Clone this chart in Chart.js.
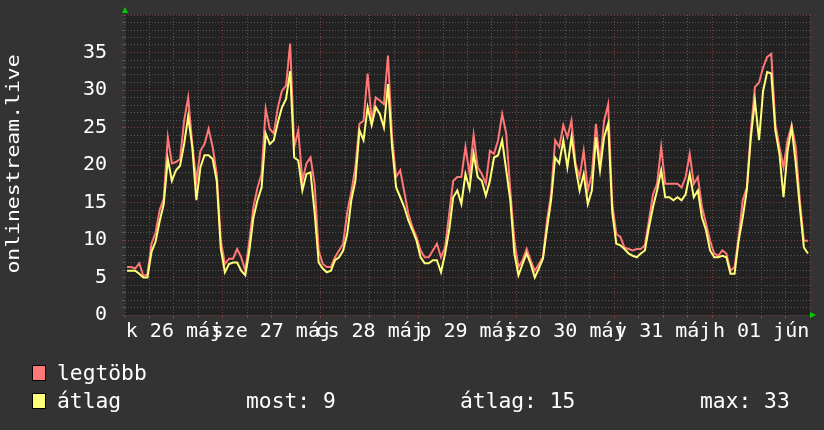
<!DOCTYPE html>
<html>
<head>
<meta charset="utf-8">
<script src="https://cdn.jsdelivr.net/npm/chart.js"></script>
<style>
  html, body { margin: 0; padding: 0; background: #333333; }
  #wrap { width: 824px; height: 430px; }
</style>
</head>
<body>
<div id="wrap"><canvas id="graph" width="824" height="430"></canvas></div>
<script>
// one week, hourly values (May 26 00:00 -> Jun 1 24:00)
const dayLabels = ['k 26 máj', 'sze 27 máj', 'cs 28 máj', 'p 29 máj', 'szo 30 máj', 'v 31 máj', 'h 01 jún'];
const yLabels = [0, 5, 10, 15, 20, 25, 30, 35];

// legtöbb (max)
const maxValues = [
  6.4, 6.4, 6.2, 6.9, 5.2, 5.4, 9.5, 11.0, 14.0, 15.5, 23.7, 20.2,
  20.4, 20.8, 25.9, 29.0, 22.8, 17.9, 21.9, 22.8, 24.8, 22.4, 18.8, 9.9,
  6.8, 7.5, 7.5, 8.8, 7.7, 5.9, 9.9, 14.4, 17.0, 18.8, 27.5, 24.8,
  24.2, 27.7, 29.9, 30.6, 36.2, 22.4, 24.6, 17.9, 20.2, 21.0, 17.5, 8.6,
  6.8, 6.4, 6.4, 7.7, 8.6, 9.5, 13.7, 16.4, 19.7, 25.5, 25.9, 32.2,
  25.9, 29.0, 28.6, 28.1, 34.6, 23.7, 18.4, 19.3, 16.4, 13.5, 11.7, 10.4,
  8.6, 7.7, 7.7, 8.6, 9.5, 7.7, 9.0, 13.5, 17.9, 18.4, 18.4, 22.4,
  18.8, 24.0, 19.7, 18.8, 17.5, 21.9, 21.5, 23.3, 26.8, 24.2, 16.6, 9.9,
  6.4, 7.3, 8.8, 7.3, 5.9, 6.8, 7.7, 12.6, 16.1, 23.3, 22.4, 25.3,
  23.7, 25.9, 20.2, 18.4, 21.9, 16.6, 18.8, 25.5, 20.2, 25.9, 28.1, 14.8,
  10.8, 10.4, 9.0, 8.8, 8.6, 8.8, 8.8, 9.3, 12.6, 16.1, 17.5, 22.4,
  17.5, 17.5, 17.5, 17.5, 17.0, 18.4, 21.5, 17.5, 18.4, 14.4, 12.2, 9.9,
  8.2, 7.9, 8.6, 8.2, 5.9, 6.4, 10.4, 15.3, 17.0, 24.6, 30.4, 31.0,
  33.0, 34.4, 34.8, 25.5, 22.4, 19.7, 23.3, 25.3, 22.4, 15.3, 9.9, 9.9
];

// átlag (average)
const avgValues = [
  5.9, 5.9, 5.9, 5.5, 5.0, 5.0, 8.4, 9.8, 12.5, 14.8, 20.8, 17.9,
  19.3, 19.9, 22.8, 26.5, 22.4, 15.3, 19.7, 21.3, 21.3, 20.8, 17.9, 8.8,
  5.7, 6.8, 7.0, 7.0, 5.9, 5.3, 8.6, 13.0, 15.3, 17.0, 24.2, 22.8,
  23.3, 25.7, 27.7, 28.8, 32.5, 21.0, 20.6, 16.6, 18.8, 19.0, 13.7, 7.0,
  6.2, 5.7, 5.9, 7.3, 7.7, 8.6, 10.8, 15.3, 17.9, 24.6, 23.3, 27.7,
  25.3, 27.7, 26.8, 25.0, 30.8, 22.4, 17.0, 15.7, 14.4, 12.6, 11.3, 9.9,
  7.7, 6.9, 6.9, 7.3, 7.3, 5.7, 8.2, 11.3, 15.7, 16.6, 14.8, 18.8,
  16.8, 21.5, 18.4, 17.9, 15.9, 17.9, 21.0, 21.3, 23.3, 19.3, 15.3, 8.2,
  5.3, 6.8, 8.2, 6.8, 5.0, 6.2, 7.5, 11.5, 15.3, 21.0, 20.2, 23.3,
  19.7, 23.7, 19.7, 16.6, 18.8, 14.8, 16.6, 23.7, 19.3, 23.7, 25.5, 13.7,
  9.5, 9.3, 8.8, 8.2, 7.9, 7.7, 8.2, 8.6, 11.7, 14.4, 16.6, 19.3,
  15.7, 15.7, 15.3, 15.7, 15.3, 16.1, 18.8, 15.7, 16.6, 13.0, 11.3, 8.6,
  7.7, 7.7, 7.9, 7.7, 5.5, 5.5, 9.9, 13.0, 16.6, 23.7, 28.6, 23.3,
  29.9, 32.4, 32.2, 24.6, 21.5, 15.7, 21.9, 25.0, 20.2, 14.4, 9.0, 8.2
];

const legendStats = ['most: 9', 'átlag: 15', 'max: 33'];

const MONO = "'DejaVu Sans Mono', monospace";
const RED = '#ff7777';
const YELLOW = '#ffff77';
const GRID_MINOR = '#585858';
const GRID_MAJOR = '#7a3c3c';

const toPoints = arr => arr.map((v, i) => ({ x: i + 0.5, y: v }));

// drop the label-overhang padding so the plot box sits where rrdtool puts it
const noPad = s => {
  s.paddingTop = 0; s.paddingBottom = 0; s.paddingLeft = 0; s.paddingRight = 0;
};

const rrdLook = {
  id: 'rrdLook',
  beforeDraw(chart) {
    const { ctx, chartArea: a } = chart;
    ctx.save();
    ctx.fillStyle = '#333333';
    ctx.fillRect(0, 0, chart.width, chart.height);
    ctx.fillStyle = '#222222';
    ctx.fillRect(a.left, a.top, a.right - a.left, a.bottom - a.top);
    ctx.restore();
  },
  afterDraw(chart) {
    const { ctx, chartArea: a } = chart;
    ctx.save();
    // axis arrows
    ctx.fillStyle = '#00cc00';
    ctx.beginPath();
    ctx.moveTo(a.left, a.top - 8);
    ctx.lineTo(a.left - 3, a.top - 2);
    ctx.lineTo(a.left + 3, a.top - 2);
    ctx.fill();
    ctx.beginPath();
    ctx.moveTo(a.right + 6, a.bottom);
    ctx.lineTo(a.right, a.bottom - 3);
    ctx.lineTo(a.right, a.bottom + 3);
    ctx.fill();

    // vertical title
    ctx.fillStyle = '#ffffff';
    ctx.font = '18px ' + MONO;
    ctx.textAlign = 'center';
    ctx.textBaseline = 'alphabetic';
    ctx.save();
    ctx.translate(18.5, 164);
    ctx.rotate(-Math.PI / 2);
    ctx.scale(1.19, 1);
    ctx.fillText('onlinestream.live', 0, 0);
    ctx.restore();

    // legend
    ctx.font = '21.3px ' + MONO;
    ctx.textAlign = 'left';
    const rows = [
      { color: RED, label: 'legtöbb', y: 365 },
      { color: YELLOW, label: 'átlag', y: 393 }
    ];
    rows.forEach(r => {
      ctx.fillStyle = r.color;
      ctx.fillRect(32, r.y, 14, 16);
      ctx.strokeStyle = '#000000';
      ctx.lineWidth = 1;
      ctx.strokeRect(32.5, r.y + 0.5, 13, 15);
      ctx.fillStyle = '#ffffff';
      ctx.fillText(r.label, 57, r.y + 15);
    });
    const statX = [246, 460, 700];
    legendStats.forEach((s, i) => ctx.fillText(s, statX[i], 408));
    ctx.restore();
  }
};

new Chart(document.getElementById('graph'), {
  type: 'line',
  data: {
    datasets: [
      {
        label: 'legtöbb',
        data: toPoints(maxValues),
        borderColor: RED,
        borderWidth: 2,
        pointRadius: 0,
        tension: 0,
        order: 1
      },
      {
        label: 'átlag',
        data: toPoints(avgValues),
        borderColor: YELLOW,
        borderWidth: 2,
        pointRadius: 0,
        tension: 0,
        order: 0
      }
    ]
  },
  options: {
    responsive: false,
    animation: false,
    devicePixelRatio: 1,
    layout: { padding: { left: 0, right: 14, top: 15, bottom: 0 } },
    plugins: { legend: { display: false }, tooltip: { enabled: false } },
    scales: {
      x: {
        type: 'linear',
        min: 0,
        max: 168,
        afterBuildTicks: s => {
          const t = [];
          for (let h = 0; h <= 168; h += 6) t.push({ value: h });
          s.ticks = t;
        },
        afterFit: s => { s.height = 115; noPad(s); },
        grid: {
          color: c => (c.tick && c.tick.value % 24 === 0 ? GRID_MAJOR : GRID_MINOR),
          lineWidth: 1,
          tickLength: 3
        },
        border: { display: false, dash: [1, 2] },
        ticks: {
          autoSkip: false,
          maxRotation: 0,
          padding: 2,
          color: '#ffffff',
          font: { family: MONO, size: 20 },
          callback: v => (v % 24 === 12 ? dayLabels[(v - 12) / 24] : '')
        }
      },
      y: {
        min: 0,
        max: 40,
        afterBuildTicks: s => {
          const t = [];
          for (let v = 0; v <= 40; v++) t.push({ value: v });
          s.ticks = t;
        },
        afterFit: s => { s.width = 125; noPad(s); },
        grid: {
          color: c => (c.tick && c.tick.value % 5 === 0 ? GRID_MAJOR : GRID_MINOR),
          lineWidth: 1,
          tickLength: 3
        },
        border: { display: false, dash: [1, 2] },
        ticks: {
          autoSkip: false,
          padding: 15,
          color: '#ffffff',
          font: { family: MONO, size: 20 },
          callback: v => (yLabels.includes(v) ? String(v) : '')
        }
      }
    }
  },
  plugins: [rrdLook]
});
</script>
</body>
</html>
